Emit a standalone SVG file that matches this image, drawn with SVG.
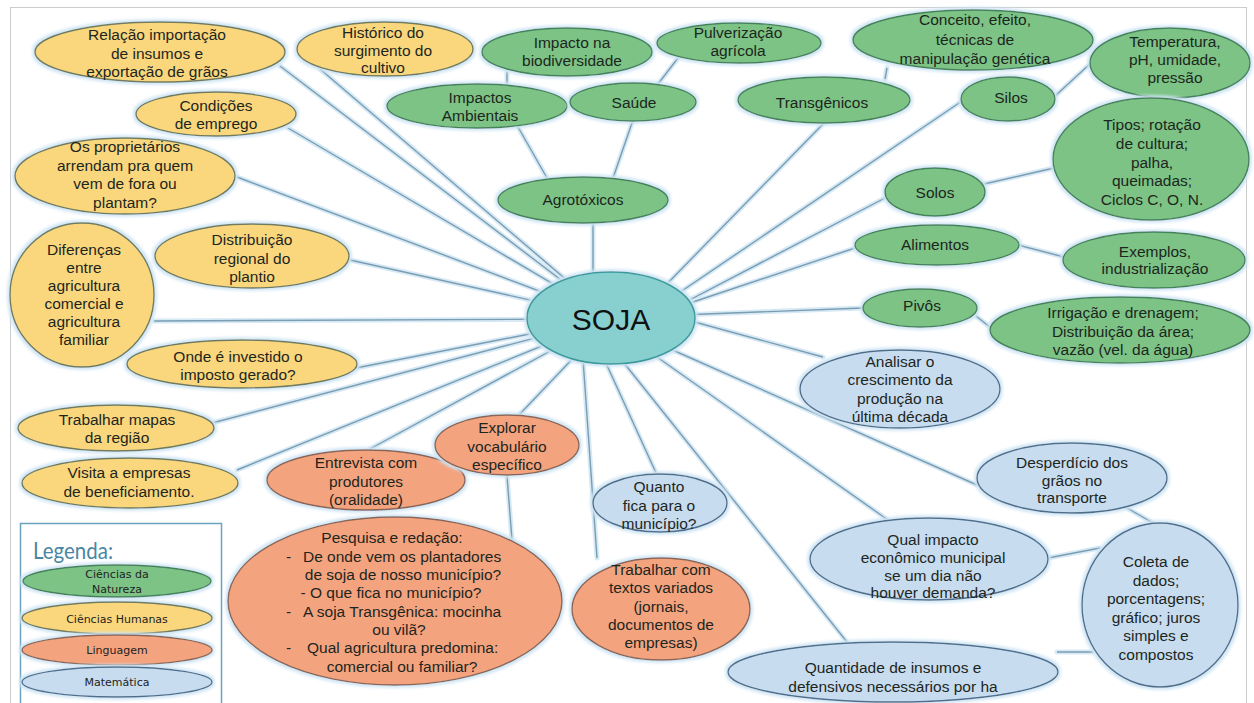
<svg xmlns="http://www.w3.org/2000/svg" width="1254" height="703" viewBox="0 0 1254 703">
<defs>
<filter id="glow" x="-10%" y="-15%" width="120%" height="130%">
<feMorphology in="SourceAlpha" operator="dilate" radius="2" result="d"/>
<feGaussianBlur in="d" stdDeviation="1.6" result="b"/>
<feFlood flood-color="#cfe5f4"/>
<feComposite in2="b" operator="in" result="g"/>
<feMerge><feMergeNode in="g"/><feMergeNode in="SourceGraphic"/></feMerge>
</filter>
</defs>
<style>
.t{font-family:"Liberation Sans",Arial,sans-serif;font-size:15.5px;fill:#1d261d;text-anchor:middle}
.ts{text-anchor:start}
.lg{font-family:"DejaVu Sans",Verdana,sans-serif;font-size:11px;fill:#222;text-anchor:middle}
.y{fill:#fad77d;stroke:#6f7a5c;stroke-width:1.4;filter:url(#glow)}
.g{fill:#7cc385;stroke:#44825a;stroke-width:1.4;filter:url(#glow)}
.o{fill:#f4a37f;stroke:#8a6555;stroke-width:1.4;filter:url(#glow)}
.b{fill:#c7dcef;stroke:#4f6e8c;stroke-width:1.4;filter:url(#glow)}
.s{fill:#88d0d0;stroke:#3b9a9c;stroke-width:1.5;filter:url(#glow)}
.halo line{stroke:#d6e9f5;stroke-width:5;stroke-linecap:round}
.ln line{stroke:#7a9db2;stroke-width:1.4}
</style>
<rect x="0" y="0" width="1254" height="703" fill="#ffffff"/>
<rect x="10.5" y="7.5" width="1236" height="700" fill="none" stroke="#cccccc" stroke-width="1"/>

<g id="connectors">
<g class="halo">
<line x1="280" y1="66" x2="611" y2="318"/>
<line x1="320" y1="69" x2="611" y2="318"/>
<line x1="288" y1="128" x2="611" y2="318"/>
<line x1="237" y1="177" x2="611" y2="318"/>
<line x1="350" y1="260" x2="611" y2="318"/>
<line x1="154" y1="321" x2="600" y2="319"/>
<line x1="356" y1="368" x2="611" y2="318"/>
<line x1="212" y1="423" x2="611" y2="318"/>
<line x1="237" y1="470" x2="611" y2="318"/>
<line x1="368" y1="450" x2="611" y2="318"/>
<line x1="518" y1="416" x2="600" y2="330"/>
<line x1="507" y1="476" x2="512" y2="540"/>
<line x1="597" y1="558" x2="582" y2="345"/>
<line x1="657" y1="475" x2="600" y2="350"/>
<line x1="847" y1="642" x2="612" y2="348"/>
<line x1="888" y1="520" x2="640" y2="345"/>
<line x1="977" y1="485" x2="650" y2="340"/>
<line x1="823" y1="357" x2="680" y2="318"/>
<line x1="863" y1="308" x2="680" y2="315"/>
<line x1="855" y1="248" x2="675" y2="308"/>
<line x1="885" y1="198" x2="680" y2="305"/>
<line x1="962" y1="101" x2="670" y2="299"/>
<line x1="823" y1="124" x2="661" y2="290"/>
<line x1="593" y1="222" x2="593" y2="290"/>
<line x1="507" y1="72" x2="507" y2="86"/>
<line x1="678" y1="58" x2="658" y2="84"/>
<line x1="518" y1="127" x2="547" y2="178"/>
<line x1="633" y1="120" x2="613" y2="178"/>
<line x1="887" y1="68" x2="885" y2="79"/>
<line x1="1054" y1="97" x2="1092" y2="62"/>
<line x1="984" y1="184" x2="1054" y2="168"/>
<line x1="1018" y1="245" x2="1064" y2="257"/>
<line x1="976" y1="316" x2="991" y2="328"/>
<line x1="1127" y1="508" x2="1160" y2="527"/>
<line x1="1048" y1="558" x2="1100" y2="548"/>
<line x1="1057" y1="652" x2="1093" y2="652"/>
</g>
<g class="ln">
<line x1="280" y1="66" x2="611" y2="318"/>
<line x1="320" y1="69" x2="611" y2="318"/>
<line x1="288" y1="128" x2="611" y2="318"/>
<line x1="237" y1="177" x2="611" y2="318"/>
<line x1="350" y1="260" x2="611" y2="318"/>
<line x1="154" y1="321" x2="600" y2="319"/>
<line x1="356" y1="368" x2="611" y2="318"/>
<line x1="212" y1="423" x2="611" y2="318"/>
<line x1="237" y1="470" x2="611" y2="318"/>
<line x1="368" y1="450" x2="611" y2="318"/>
<line x1="518" y1="416" x2="600" y2="330"/>
<line x1="507" y1="476" x2="512" y2="540"/>
<line x1="597" y1="558" x2="582" y2="345"/>
<line x1="657" y1="475" x2="600" y2="350"/>
<line x1="847" y1="642" x2="612" y2="348"/>
<line x1="888" y1="520" x2="640" y2="345"/>
<line x1="977" y1="485" x2="650" y2="340"/>
<line x1="823" y1="357" x2="680" y2="318"/>
<line x1="863" y1="308" x2="680" y2="315"/>
<line x1="855" y1="248" x2="675" y2="308"/>
<line x1="885" y1="198" x2="680" y2="305"/>
<line x1="962" y1="101" x2="670" y2="299"/>
<line x1="823" y1="124" x2="661" y2="290"/>
<line x1="593" y1="222" x2="593" y2="290"/>
<line x1="507" y1="72" x2="507" y2="86"/>
<line x1="678" y1="58" x2="658" y2="84"/>
<line x1="518" y1="127" x2="547" y2="178"/>
<line x1="633" y1="120" x2="613" y2="178"/>
<line x1="887" y1="68" x2="885" y2="79"/>
<line x1="1054" y1="97" x2="1092" y2="62"/>
<line x1="984" y1="184" x2="1054" y2="168"/>
<line x1="1018" y1="245" x2="1064" y2="257"/>
<line x1="976" y1="316" x2="991" y2="328"/>
<line x1="1127" y1="508" x2="1160" y2="527"/>
<line x1="1048" y1="558" x2="1100" y2="548"/>
<line x1="1057" y1="652" x2="1093" y2="652"/>
</g>
</g>

<g id="soja"><ellipse class="s" cx="611" cy="318" rx="84" ry="46"/><text x="611" y="330" style="font-family:'Liberation Sans',Arial,sans-serif;font-size:30px;fill:#111;text-anchor:middle">SOJA</text></g>

<g id="relacao"><ellipse class="y" cx="160" cy="52" rx="125" ry="30"/><text class="t" x="157" y="40">Relação importação<tspan x="157" dy="18.5">de insumos e</tspan><tspan x="157" dy="18.5">exportação de grãos</tspan></text></g>
<g id="historico"><ellipse class="y" cx="385" cy="49" rx="88" ry="27"/><text class="t" x="383" y="38">Histórico do<tspan x="383" dy="17.5">surgimento do</tspan><tspan x="383" dy="17.5">cultivo</tspan></text></g>
<g id="condicoes"><ellipse class="y" cx="216" cy="114" rx="80" ry="22"/><text class="t" x="216" y="111">Condições<tspan x="216" dy="17.5">de emprego</tspan></text></g>
<g id="proprietarios"><ellipse class="y" cx="125" cy="176" rx="110" ry="38"/><text class="t" x="125" y="152">Os proprietários<tspan x="125" dy="18.5">arrendam pra quem</tspan><tspan x="125" dy="18.5">vem de fora ou</tspan><tspan x="125" dy="18.5">plantam?</tspan></text></g>
<g id="diferencas"><ellipse class="y" cx="82" cy="295" rx="72" ry="72"/><text class="t" x="84" y="255">Diferenças<tspan x="84" dy="18">entre</tspan><tspan x="84" dy="18">agricultura</tspan><tspan x="84" dy="18">comercial e</tspan><tspan x="84" dy="18">agricultura</tspan><tspan x="84" dy="18">familiar</tspan></text></g>
<g id="distribuicao"><ellipse class="y" cx="252" cy="256" rx="97" ry="32"/><text class="t" x="252" y="245">Distribuição<tspan x="252" dy="18.5">regional do</tspan><tspan x="252" dy="18.5">plantio</tspan></text></g>
<g id="onde"><ellipse class="y" cx="242" cy="364" rx="115" ry="24"/><text class="t" x="238" y="362">Onde é investido o<tspan x="238" dy="18">imposto gerado?</tspan></text></g>
<g id="mapas"><ellipse class="y" cx="116" cy="428" rx="98" ry="23"/><text class="t" x="117" y="425">Trabalhar mapas<tspan x="117" dy="18">da região</tspan></text></g>
<g id="visita"><ellipse class="y" cx="130" cy="483" rx="108" ry="25"/><text class="t" x="129" y="478">Visita a empresas<tspan x="129" dy="19">de beneficiamento.</tspan></text></g>

<g id="biodiversidade"><ellipse class="g" cx="567" cy="52" rx="85" ry="24"/><text class="t" x="572" y="48">Impacto na<tspan x="572" dy="17.5">biodiversidade</tspan></text></g>
<g id="pulverizacao"><ellipse class="g" cx="739" cy="43" rx="82" ry="20"/><text class="t" x="738" y="38">Pulverização<tspan x="738" dy="18">agrícola</tspan></text></g>
<g id="ambientais"><ellipse class="g" cx="477" cy="106" rx="90" ry="22"/><text class="t" x="480" y="103">Impactos<tspan x="480" dy="18">Ambientais</tspan></text></g>
<g id="saude"><ellipse class="g" cx="633" cy="102" rx="63" ry="19"/><text class="t" x="634" y="108">Saúde</text></g>
<g id="agrotoxicos"><ellipse class="g" cx="583" cy="200" rx="85" ry="23"/><text class="t" x="583" y="205">Agrotóxicos</text></g>
<g id="transgenicos"><ellipse class="g" cx="824" cy="100" rx="86" ry="23"/><text class="t" x="822" y="108">Transgênicos</text></g>
<g id="conceito"><ellipse class="g" cx="973" cy="40" rx="120" ry="30"/><text class="t" x="975" y="25">Conceito, efeito,<tspan x="975" dy="19.5">técnicas de</tspan><tspan x="975" dy="19">manipulação genética</tspan></text></g>
<g id="silos"><ellipse class="g" cx="1008" cy="99" rx="47" ry="22"/><text class="t" x="1011" y="103">Silos</text></g>
<g id="temperatura"><ellipse class="g" cx="1170" cy="63" rx="80" ry="35"/><text class="t" x="1175" y="47">Temperatura,<tspan x="1175" dy="18">pH, umidade,</tspan><tspan x="1175" dy="18">pressão</tspan></text></g>
<g id="tipos"><ellipse class="g" cx="1151" cy="159" rx="98" ry="61"/><text class="t" x="1152" y="130">Tipos; rotação<tspan x="1152" dy="18.8">de cultura;</tspan><tspan x="1152" dy="18.8">palha,</tspan><tspan x="1152" dy="18.8">queimadas;</tspan><tspan x="1152" dy="18.8">Ciclos C, O, N.</tspan></text></g>
<g id="solos"><ellipse class="g" cx="935" cy="192" rx="50" ry="24"/><text class="t" x="935" y="198">Solos</text></g>
<g id="alimentos"><ellipse class="g" cx="937" cy="245" rx="82" ry="20"/><text class="t" x="935" y="250">Alimentos</text></g>
<g id="exemplos"><ellipse class="g" cx="1154" cy="260" rx="91" ry="28"/><text class="t" x="1155" y="257">Exemplos,<tspan x="1155" dy="17">industrialização</tspan></text></g>
<g id="pivos"><ellipse class="g" cx="920" cy="308" rx="57" ry="19"/><text class="t" x="922" y="311">Pivôs</text></g>
<g id="irrigacao"><ellipse class="g" cx="1120" cy="330" rx="130" ry="33"/><text class="t" x="1123" y="318">Irrigação e drenagem;<tspan x="1123" dy="18.5">Distribuição da área;</tspan><tspan x="1123" dy="18.5">vazão (vel. da água)</tspan></text></g>

<g id="analisar"><ellipse class="b" cx="900" cy="389" rx="100" ry="39"/><text class="t" x="900" y="367">Analisar o<tspan x="900" dy="18.3">crescimento da</tspan><tspan x="900" dy="18.3">produção na</tspan><tspan x="900" dy="18.3">última década</tspan></text></g>
<g id="desperdicio"><ellipse class="b" cx="1072" cy="478" rx="95" ry="35"/><text class="t" x="1072" y="468">Desperdício dos<tspan x="1072" dy="17.5">grãos no</tspan><tspan x="1072" dy="17.5">transporte</tspan></text></g>
<g id="impacto"><ellipse class="b" cx="929" cy="559" rx="119" ry="41"/><text class="t" x="933" y="545">Qual impacto<tspan x="933" dy="17.8">econômico municipal</tspan><tspan x="933" dy="17.8">se um dia não</tspan><tspan x="933" dy="17.8">houver demanda?</tspan></text></g>
<g id="coleta"><ellipse class="b" cx="1160" cy="605" rx="78" ry="82"/><text class="t" x="1156" y="567">Coleta de<tspan x="1156" dy="18.6">dados;</tspan><tspan x="1156" dy="18.6">porcentagens;</tspan><tspan x="1156" dy="18.6">gráfico; juros</tspan><tspan x="1156" dy="18.6">simples e</tspan><tspan x="1156" dy="18.6">compostos</tspan></text></g>
<g id="quantidade"><ellipse class="b" cx="893" cy="672" rx="165" ry="30"/><text class="t" x="893" y="673">Quantidade de insumos e<tspan x="893" dy="19">defensivos necessários por ha</tspan></text></g>
<g id="quanto"><ellipse class="b" cx="660" cy="503" rx="67" ry="29"/><text class="t" x="659" y="492">Quanto<tspan x="659" dy="18.5">fica para o</tspan><tspan x="659" dy="18.5">município?</tspan></text></g>

<g id="entrevista"><ellipse class="o" cx="366" cy="480" rx="99" ry="30"/><text class="t" x="366" y="468">Entrevista com<tspan x="366" dy="18.5">produtores</tspan><tspan x="366" dy="18.5">(oralidade)</tspan></text></g>
<g id="explorar"><ellipse class="o" cx="507" cy="445" rx="72" ry="30"/><text class="t" x="507" y="433">Explorar<tspan x="507" dy="18.5">vocabulário</tspan><tspan x="507" dy="18.5">específico</tspan></text></g>
<g id="pesquisa"><ellipse class="o" cx="395" cy="601" rx="167" ry="84"/>
<text class="t" x="392" y="543">Pesquisa e redação:</text>
<text class="t ts" x="286" y="562">-</text><text class="t ts" x="303" y="562">De onde vem os plantadores</text>
<text class="t" x="403" y="580">de soja de nosso município?</text>
<text class="t" x="391" y="598">- O que fica no município?</text>
<text class="t ts" x="286" y="617">-</text><text class="t ts" x="303" y="617">A soja Transgênica: mocinha</text>
<text class="t" x="399" y="635">ou vilã?</text>
<text class="t ts" x="286" y="653">-</text><text class="t ts" x="307" y="653">Qual agricultura predomina:</text>
<text class="t" x="402" y="672">comercial ou familiar?</text></g>
<g id="textos"><ellipse class="o" cx="661" cy="609" rx="89" ry="51"/><text class="t" x="661" y="575">Trabalhar com<tspan x="661" dy="18.3">textos variados</tspan><tspan x="661" dy="18.3">(jornais,</tspan><tspan x="661" dy="18.3">documentos de</tspan><tspan x="661" dy="18.3">empresas)</tspan></text></g>

<g id="legenda">
<rect x="20.5" y="523.5" width="201" height="190" fill="#ffffff" stroke="#6aa2c0" stroke-width="1.5"/>
<text x="33" y="559" textLength="80" lengthAdjust="spacingAndGlyphs" style="font-family:Lato,'Open Sans',sans-serif;font-size:23px;fill:#4a86a3">Legenda:</text>
<ellipse class="g" cx="117" cy="581" rx="94" ry="16"/><text class="lg" x="117" y="578">Ciências da<tspan x="117" dy="14.5">Natureza</tspan></text>
<ellipse class="y" cx="117" cy="618" rx="95" ry="16"/><text class="lg" x="117" y="623">Ciências Humanas</text>
<ellipse class="o" cx="117" cy="650" rx="95" ry="15"/><text class="lg" x="117" y="654">Linguagem</text>
<ellipse class="b" cx="117" cy="682" rx="95" ry="15"/><text class="lg" x="117" y="686">Matemática</text>
</g>
</svg>
